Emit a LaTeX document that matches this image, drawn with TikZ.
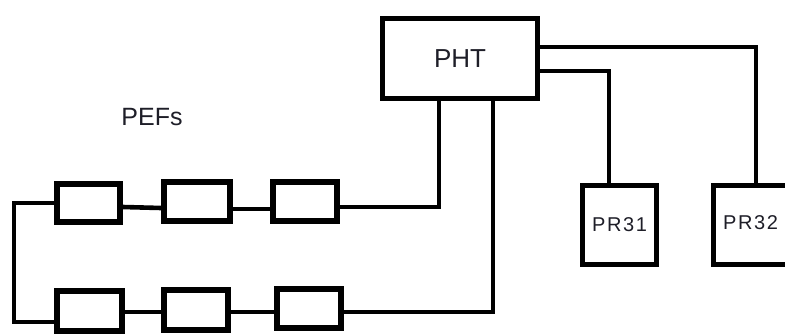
\documentclass[tikz,border=0pt]{standalone}
\usepackage{fontspec}
\setmainfont{Liberation Sans}
\definecolor{txt}{RGB}{30,30,40}
\begin{document}
\begin{tikzpicture}[x=1pt,y=-1pt,
  box/.style={draw=black,line width=5.5pt,rectangle,inner sep=0pt,text=txt},
  wire/.style={draw=black,line width=4.6pt,line cap=rect,line join=miter},
  big/.style={font=\fontsize{26}{30}\selectfont},
  mid/.style={font=\fontsize{25}{30}\selectfont},
  small/.style={font=\fontsize{20}{24}\selectfont\addfontfeatures{LetterSpace=8}}]
\useasboundingbox (0,0) rectangle (785,333);
\clip (0,0) rectangle (785,333);
% PHT and PR boxes
\node[box,big,minimum width=155pt,minimum height=80pt] (pht) at (460,58.5) {PHT};
\node[box,small,minimum width=74pt,minimum height=79pt] (pr31) at (619.5,225) {PR31};
\node[box,small,minimum width=74pt,minimum height=79pt] (pr32) at (750.5,225) {\raisebox{4pt}{PR32}};
\node[mid,text=txt,inner sep=0pt] (pefs) at (152,117) {PEFs};
% top row
\node[box,minimum width=63pt,minimum height=38pt] (t1) at (88.5,203) {};
\node[box,minimum width=66pt,minimum height=39pt] (t2) at (197,201.5) {};
\node[box,minimum width=64pt,minimum height=39pt] (t3) at (305,201.5) {};
% bottom row
\node[box,minimum width=65pt,minimum height=40pt] (b1) at (89.5,311) {};
\node[box,minimum width=64pt,minimum height=40pt] (b2) at (196,310) {};
\node[box,minimum width=64pt,minimum height=39pt] (b3) at (309,308.5) {};
% left loop
\coordinate (lt) at (14,203);
\coordinate (lb) at (14,322);
\draw[wire] (t1.west) -- (lt) -- (lb) -- (b1.west |- lb);
% top row wires
\draw[wire,line cap=butt] ([yshift=-4pt]t1.east) -- ([yshift=-6.5pt]t2.west);
\draw[wire,line cap=butt] ([yshift=-7.5pt]t2.east) -- ([yshift=-7.5pt]t3.west);
\draw[wire] ([yshift=-5.5pt]t3.east) -- (439,207) -- (439,101) -- (pht.south -| 439,0);
% bottom row wires
\draw[wire,line cap=butt] ([yshift=-1pt]b1.east) -- ([yshift=-2pt]b2.west);
\draw[wire,line cap=butt] ([yshift=-2pt]b2.east) -- ([yshift=-3.5pt]b3.west);
\draw[wire] ([yshift=-3.5pt]b3.east) -- (493,312) -- (pht.south -| 493,0);
% PHT to PR
\draw[wire] (pht.east |- 0,47) -- (756,47) -- (pr32.north -| 756,0);
\draw[wire] (pht.east |- 0,71) -- (609,71) -- (pr31.north -| 609,0);
\end{tikzpicture}
\end{document}
